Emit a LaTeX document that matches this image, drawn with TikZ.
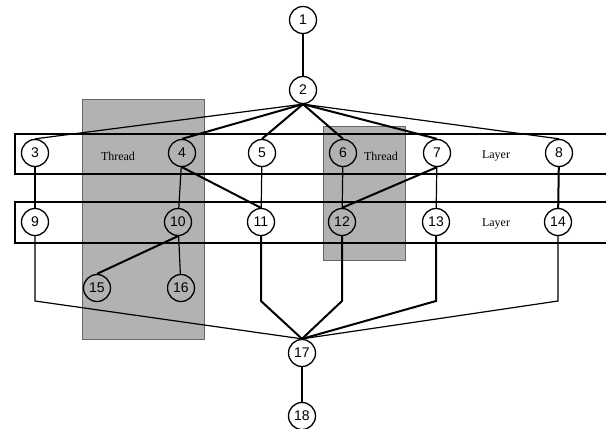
\documentclass[tikz,border=0pt]{standalone}
\usepackage{fontspec}
\setmainfont{Liberation Serif}
\newfontfamily\digitfont{Liberation Sans}
\usetikzlibrary{positioning}

\begin{document}
\begin{tikzpicture}[x=1pt,y=-1pt,
  vertex/.style={circle,draw,line width=1.3pt,minimum size=27pt,inner sep=0pt,font=\digitfont\fontsize{14}{14}\selectfont},
  thinline/.style={line width=1.2pt},
  thickline/.style={line width=2pt},
  layer/.style={draw,line width=1.3pt},
  thread/.style={fill=black!30,draw=black!60,line width=0.9pt},
  word/.style={font=\fontsize{12}{12}\selectfont}]
 \useasboundingbox (0,0) rectangle (606,429);
 \filldraw[thread] (82,99) rectangle (204,339);
 \filldraw[thread] (323,126) rectangle (405,260);
 \draw[layer] (612,134) -- (15,134) -- (15,174) -- (612,174);
 \draw[layer] (612,202) -- (15,202) -- (15,243) -- (612,243);
 \foreach \n/\x/\y in {1/303/20,2/303/90,3/35/153,4/182/153,5/262/153,6/343/153,
   7/437/153,8/559/153,9/35/222,10/178/222,11/261/222,12/342/222,13/436/222,
   14/558/222,15/97/288,16/181/288,17/302/353,18/302/416}
 \node[vertex] (n\n) at (\x,\y) {\n};
 \node[word] (thread1) at (118,156) {Thread};
 \node[word] (thread2) at (381,156) {Thread};
 \node[word] (layer1) at (496,156) {Layer};
 \node[word] (layer2) at (496,224) {Layer};
 \coordinate (bend) at (0,301);
 \draw[thinline] (n1) -- (n2);
 \draw[thinline] (n2.south) -- (n3.north);
 \draw[thickline] (n2.south) -- (n4.north);
 \draw[thickline] (n2.south) -- (n5.north);
 \draw[thickline] (n2.south) -- (n6.north);
 \draw[thickline] (n2.south) -- (n7.north);
 \draw[thinline] (n2.south) -- (n8.north);
 \draw[thinline] (n3) -- (n9);
 \draw[thinline] (n4) -- (n10);
 \draw[thickline] (n4.south) -- (n11.north);
 \draw[thinline] (n5) -- (n11);
 \draw[thinline] (n6) -- (n12);
 \draw[thickline] (n7.south) -- (n12.north);
 \draw[thinline] (n7) -- (n13);
 \draw[thickline] (n8) -- (n14);
 \draw[thickline] (n10.south) -- (n15.north);
 \draw[thinline] (n10) -- (n16);
 \draw[thinline] (n9) -- (n9 |- bend) -- (n17.north);
 \draw[thickline] (n11) -- (n11 |- bend) -- (n17.north);
 \draw[thickline] (n12) -- (n12 |- bend) -- (n17.north);
 \draw[thickline] (n13) -- (n13 |- bend) -- (n17.north);
 \draw[thinline] (n14) -- (n14 |- bend) -- (n17.north);
 \draw[thinline] (n17) -- (n18);
\end{tikzpicture}
\end{document}
